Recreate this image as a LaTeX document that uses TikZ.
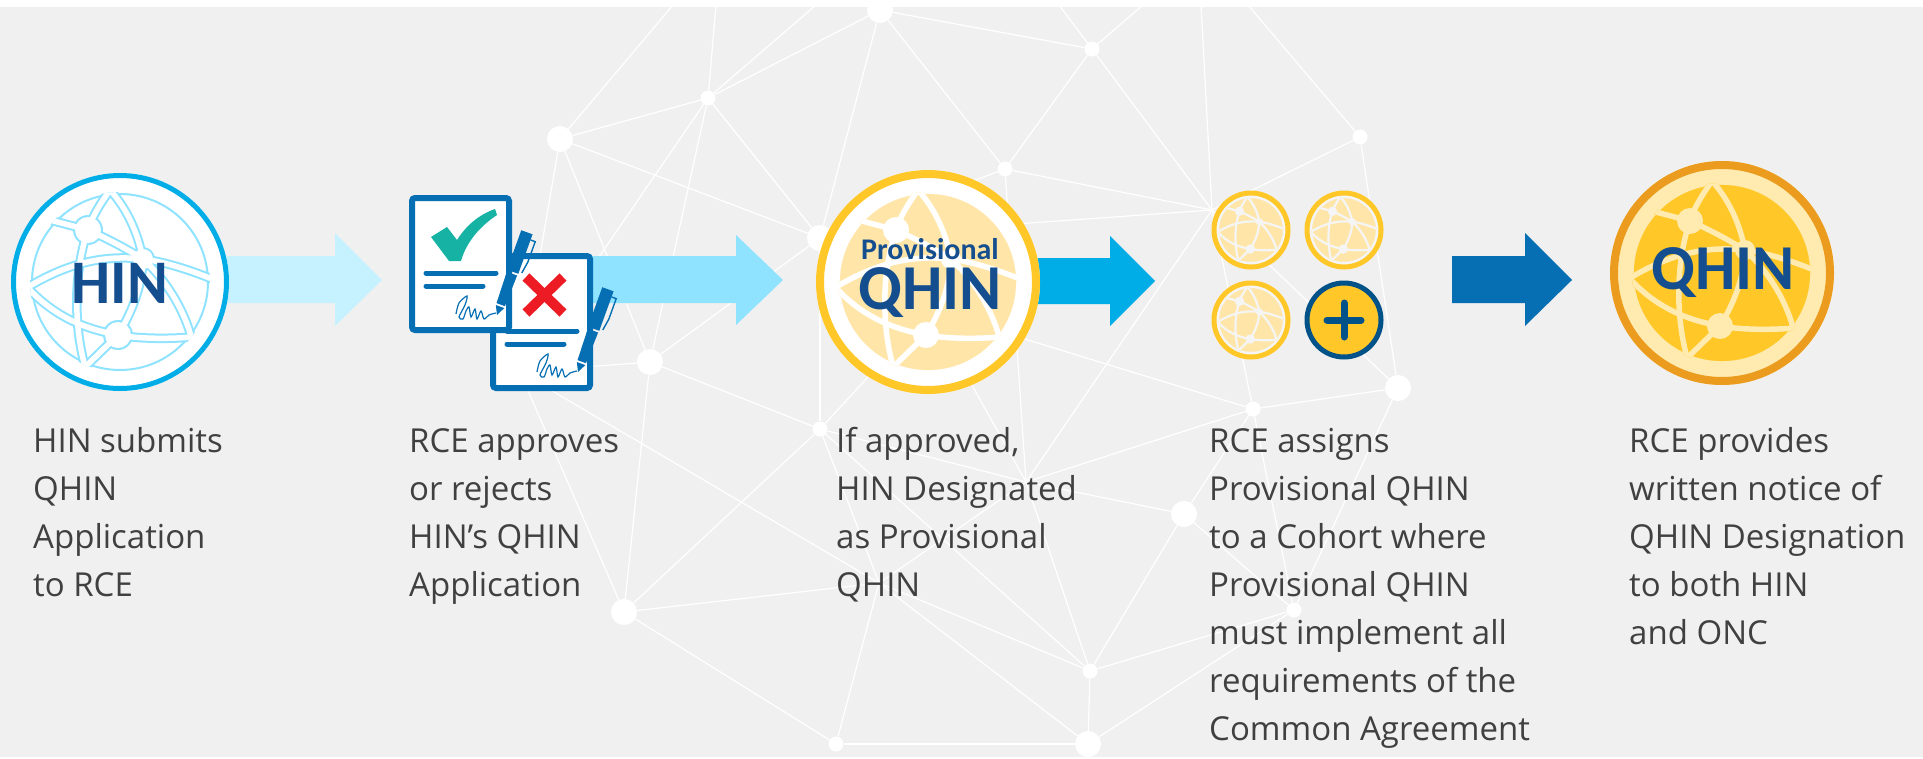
\documentclass[tikz,border=0pt]{standalone}
\usepackage{fontspec}
\setmainfont{Open Sans}
\newfontfamily\carlito[Ligatures=TeX]{Carlito}
\definecolor{bg}{HTML}{F0F0F0}
\definecolor{txt}{HTML}{404040}
\definecolor{navy}{HTML}{154E8F}
\definecolor{sky}{HTML}{00ADE6}
\definecolor{pale}{HTML}{C6F1FF}
\definecolor{lite}{HTML}{8FE3FF}
\definecolor{royal}{HTML}{066FB3}
\definecolor{gold}{HTML}{FFC727}
\definecolor{amber}{HTML}{EB9C1E}
\definecolor{cream}{HTML}{FFEBB0}
\definecolor{paleg}{HTML}{FFE6A8}
\definecolor{teal}{HTML}{16B3A5}
\definecolor{redx}{HTML}{ED1C24}
\definecolor{deepb}{HTML}{005288}
\definecolor{offw}{HTML}{F5F5F5}
\tikzset{
  netline/.style={draw=white,line width=1.2pt},
  bignode/.style={circle,fill=white,inner sep=0pt,minimum size=26pt},
  smallnode/.style={circle,fill=white,inner sep=0pt,minimum size=15pt},
  caption/.style={anchor=north west,inner sep=0pt,align=left,text=txt,font=\fontsize{33}{48}\selectfont},
  coinlabel/.style={inner sep=0pt,text=navy},
}
% #1 centre, #2 scale, #3 fill, #4 band, #5 outline, #6 band width, #7 outline extra
\newcommand{\globeicon}[7]{%
  \begin{scope}[shift={(#1)},scale=#2]
    \fill[#3] (0,0) circle (88);
    \draw[#5,line width=#7pt] (0,0) circle (88);
    \begin{scope}
      \clip (0,0) circle (90);
      \foreach \lw/\cc in {1/#5,0/#4}{
        \pgfmathsetmacro{\wd}{#6+\lw*2*#7}
        \pgfmathsetmacro{\rex}{\lw*#7/#2}
        \begin{scope}[line width=\wd pt,draw=\cc,line cap=round]
          \draw (-10,-92) .. controls (-20,-78) and (-28,-65) .. (-32,-52);
          \draw (-10,-92) .. controls (8,-72) and (18,-48) .. (23,-23);
          \draw (-32,-52) .. controls (-10,-42) and (5,-34) .. (23,-23);
          \draw (-70,-62) -- (-32,-52);
          \draw (-92,5) .. controls (-50,-20) and (-15,-27) .. (23,-23) .. controls (45,-20) and (70,-12) .. (92,-3);
          \draw (-32,-52) .. controls (-45,-15) and (-48,40) .. (-34,88);
          \draw (-92,6) .. controls (-65,35) and (-35,47) .. (-2,53);
          \draw (-2,53) -- (-38,88);
          \draw (-2,53) .. controls (20,57) and (50,57) .. (72,55);
          \draw (23,-23) .. controls (48,0) and (65,30) .. (72,58);
          \draw (23,-23) .. controls (22,5) and (12,30) .. (-2,53);
          \fill[\cc] (-32,-52) circle ({13+\rex}) (23,-23) circle ({10+\rex}) (-2,53) circle ({13+\rex});
        \end{scope}
      }
    \end{scope}
  \end{scope}}
\newcommand{\docicon}[1]{%
  \begin{scope}[shift={(#1)}]
    \draw[royal,fill=white,line width=6pt,rounded corners=3pt] (3,3) rectangle (100,135);
    \draw[royal,line width=5pt,line cap=round] (17,78) -- (87,78) (17,91) -- (74,91);
    \draw[royal,line width=1.2pt] plot[smooth] coordinates {(47,119) (50,108) (58,101) (56,110) (50,122) (54,124) (57,116) (60,112) (62,122) (66,114) (68,124) (72,116) (75,124) (80,120) (87,118)};
  \end{scope}}
\newcommand{\penicon}[1]{%
  \begin{scope}[shift={(#1)},x={(0.94pt,-0.34pt)},y={(0.34pt,0.94pt)}]
    \fill[royal] (0,0) -- (-4.5,9) -- (4.5,9) -- cycle;
    \fill[royal] (-4.5,11) -- (4.5,11) -- (5.5,44) -- (-5.5,44) -- cycle;
    \fill[royal] (-6,46) -- (6,46) -- (6,88) -- (-6,88) -- cycle;
    \draw[royal,line width=1.4pt] (6,82) -- (11,82) -- (11,60) -- (9,48);
  \end{scope}}
\begin{document}
\begin{tikzpicture}[x=1pt,y=-1pt]
\useasboundingbox (0,0) rectangle (1923,758);
\fill[white] (0,0) rectangle (1923,758);
\fill[bg] (0,7) rectangle (1923,757);
\begin{scope}
\clip (0,7) rectangle (1923,757);
\coordinate (t1) at (673,5);
\coordinate (t2) at (716,5);
\coordinate (t3) at (816,5);
\coordinate (t4) at (1059,5);
\coordinate (t5) at (1143,5);
\coordinate (t6) at (1201,5);
\coordinate (t7) at (1248,5);
\coordinate (hb) at (1212,210);
\coordinate (T) at (520,372);
\coordinate (S) at (879,583);
\coordinate (U) at (930,310);
\coordinate (M) at (1026,482);
\node[bignode] (A) at (880,10) {};
\node[smallnode] (B) at (1092,49) {};
\node[smallnode] (C) at (708,98) {};
\node[bignode] (D) at (560,139) {};
\node[smallnode] (E) at (1360,137) {};
\node[smallnode] (F) at (1005,169) {};
\node[bignode] (G) at (820,238) {};
\node[bignode] (H) at (650,362) {};
\node[smallnode] (I) at (820,429) {};
\node[smallnode] (J) at (1253,409) {};
\node[bignode] (K) at (1398,388) {};
\node[bignode] (L) at (1184,514) {};
\node[bignode] (N) at (624,612) {};
\node[smallnode] (O) at (1294,610) {};
\node[smallnode] (P) at (1090,671) {};
\node[smallnode] (Q) at (836,744) {};
\node[bignode] (R) at (1088,744) {};
\foreach \a/\b in {D/t1,C/t2,C/t3,C/A,A/B,A/G,A/F,B/F,B/t4,B/t5,B/hb,hb/t6,E/t7,C/D,C/G,C/H,C/T,D/G,D/H,D/T,G/H,G/I,G/hb,F/G,F/hb,F/M,E/hb,E/K,hb/K,hb/J,hb/M,H/T,H/I,H/N,I/N,I/U,I/M,I/P,I/S,T/N,T/S,U/M,U/J,M/J,M/L,M/P,M/S,J/K,J/L,J/O,K/O,L/O,L/P,O/P,O/R,P/R,Q/R,N/Q,S/N,S/Q,S/P,S/R}
  \draw[netline] (\a) -- (\b);
\end{scope}
% arrows
\fill[pale] (227,256) -- (335,256) -- (335,233) -- (382,280) -- (335,326) -- (335,303) -- (227,303) -- cycle;
\fill[lite] (585,256) -- (736,256) -- (736,235) -- (783,280) -- (736,325) -- (736,303) -- (585,303) -- cycle;
\fill[sky] (1030,258) -- (1110,258) -- (1110,236) -- (1155,281) -- (1110,326) -- (1110,304) -- (1030,304) -- cycle;
\fill[royal] (1452,256) -- (1525,256) -- (1525,233) -- (1572,280) -- (1525,326) -- (1525,303) -- (1452,303) -- cycle;
% HIN
\fill[white] (120,282) circle (109);
\draw[sky,line width=5pt] (120,282) circle (106.5);
\globeicon{120,282}{1}{white}{white}{lite}{5.5}{2}
\node[coinlabel,font=\carlito\bfseries\fontsize{62}{62}\selectfont] (hinlabel) at (120,283) {HIN};
% documents
\docicon{490,253}
\draw[redx,line width=10pt] (526,277) -- (563,313) (563,277) -- (526,313);
\penicon{578,372}
\docicon{409,195}
\fill[teal] (431,237) -- (447,227) -- (457,240) .. controls (466,226) and (478,215) .. (495,209) -- (497,215) .. controls (482,225) and (467,240) .. (461,261) -- (449,261) -- cycle;
\penicon{497,315}
% Provisional
\fill[white] (928,282) circle (112);
\draw[gold,line width=8pt] (928,282) circle (108);
\globeicon{928,282}{1}{paleg}{white}{paleg}{5.5}{0.1}
\node[coinlabel,font=\carlito\bfseries\fontsize{30}{30}\selectfont] (provlabel) at (930,249) {Provisional};
\node[coinlabel,font=\carlito\bfseries\fontsize{64}{64}\selectfont] (provq) at (930,293) {QHIN};
% cohort
\foreach \cx/\cy in {1251/230,1344/230,1251/320}{
  \fill[offw] (\cx,\cy) circle (39);
  \draw[gold,line width=5pt] (\cx,\cy) circle (37);
  \globeicon{\cx,\cy}{0.36}{paleg}{offw}{paleg}{2.2}{0.1}
}
\fill[gold] (1344,320) circle (39);
\draw[deepb,line width=5pt] (1344,320) circle (37);
\draw[deepb,line width=7pt,line cap=round] (1344,303) -- (1344,337) (1327,320) -- (1361,320);
% QHIN
\fill[cream] (1722,273) circle (112);
\draw[amber,line width=8pt] (1722,273) circle (108);
\globeicon{1722,273}{1}{gold}{cream}{gold}{5.5}{0.1}
\node[coinlabel,font=\carlito\bfseries\fontsize{64}{64}\selectfont] (qhinlabel) at (1723,273) {QHIN};
% captions
\node[caption] (c1) at (33,418.4) {\strut HIN submits\\QHIN\\Application\\to RCE};
\node[caption] (c2) at (409,418.4) {\strut RCE approves\\or rejects\\HIN’s QHIN\\Application};
\node[caption] (c3) at (836,418.4) {\strut If approved,\\HIN Designated\\as Provisional\\QHIN};
\node[caption] (c4) at (1209,418.4) {\strut RCE assigns\\Provisional QHIN\\to a Cohort where\\Provisional QHIN\\must implement all\\requirements of the\\Common Agreement};
\node[caption] (c5) at (1629,418.4) {\strut RCE provides\\written notice of\\QHIN Designation\\to both HIN\\and ONC};
\end{tikzpicture}
\end{document}
